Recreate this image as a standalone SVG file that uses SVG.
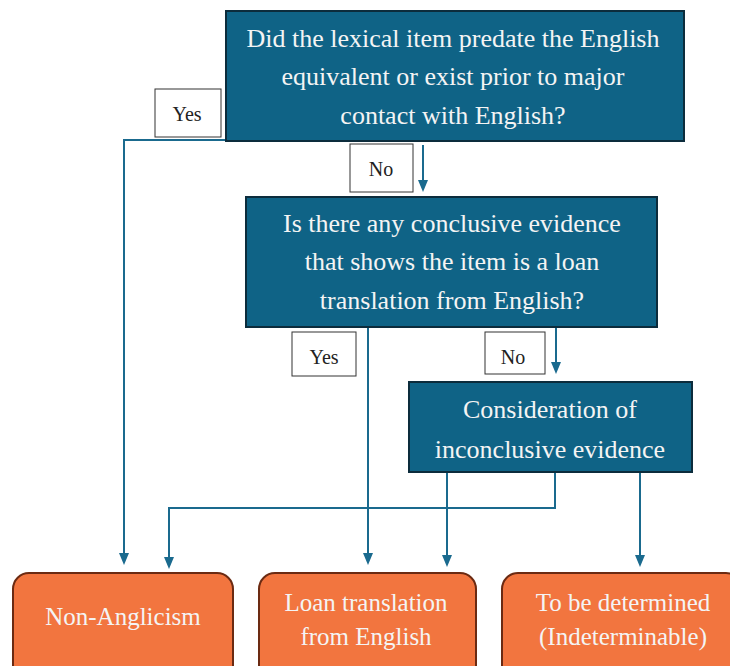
<svg xmlns="http://www.w3.org/2000/svg" width="730" height="666" viewBox="0 0 730 666">
<defs>
<style>
.q{fill:#0f6386;stroke:#0c2c3c;stroke-width:2}
.t{fill:#f4f4f4;font-family:"Liberation Serif",serif;font-size:26px;text-anchor:middle}
.b{font-size:25px}
.lb{fill:#ffffff;stroke:#333333;stroke-width:1}
.lt{fill:#222222;font-family:"Liberation Serif",serif;font-size:20px;text-anchor:middle}
.o{fill:#f2753f;stroke:#6b2a12;stroke-width:2}
.c{fill:none;stroke:#1a6a8e;stroke-width:2}
.h{fill:#1a6a8e}
</style>
</defs>
<rect width="730" height="666" fill="#ffffff"/>
<g id="connectors">
<path class="c" d="M226,140 H124 V553"/>
<path class="h" d="M119,553 L129,553 L124,565 Z"/>
<path class="c" d="M423,145 V180"/>
<path class="h" d="M418,180 L428,180 L423,192 Z"/>
<path class="c" d="M368,327 V553"/>
<path class="h" d="M363,553 L373,553 L368,565 Z"/>
<path class="c" d="M556,327 V362"/>
<path class="h" d="M551,362 L561,362 L556,374 Z"/>
<path class="c" d="M447,472 V555"/>
<path class="h" d="M442,555 L452,555 L447,567 Z"/>
<path class="c" d="M555,472 V508 H169 V557"/>
<path class="h" d="M164,557 L174,557 L169,569 Z"/>
<path class="c" d="M640,472 V555"/>
<path class="h" d="M635,555 L645,555 L640,567 Z"/>
</g>
<g id="q1">
<rect class="q" x="226" y="11" width="458" height="130"/>
<text class="t" x="453" y="47">Did the lexical item predate the English</text>
<text class="t" x="453" y="85">equivalent or exist prior to major</text>
<text class="t" x="453" y="124">contact with English?</text>
</g>
<g id="yes1">
<rect class="lb" x="155" y="89" width="66" height="48"/>
<text class="lt" x="187" y="121">Yes</text>
</g>
<g id="no1">
<rect class="lb" x="350" y="144" width="63" height="48"/>
<text class="lt" x="381" y="176">No</text>
</g>
<g id="q2">
<rect class="q" x="246" y="197" width="411" height="130"/>
<text class="t" x="452" y="232">Is there any conclusive evidence</text>
<text class="t" x="452" y="270">that shows the item is a loan</text>
<text class="t" x="452" y="309">translation from English?</text>
</g>
<g id="yes2">
<rect class="lb" x="292" y="332" width="64" height="44"/>
<text class="lt" x="324" y="364">Yes</text>
</g>
<g id="no2">
<rect class="lb" x="485" y="332" width="60" height="42"/>
<text class="lt" x="513" y="364">No</text>
</g>
<g id="q3">
<rect class="q" x="409" y="382" width="283" height="90"/>
<text class="t" x="550" y="418">Consideration of</text>
<text class="t" x="550" y="458">inconclusive evidence</text>
</g>
<g id="r1">
<rect class="o" x="13" y="573" width="220" height="110" rx="16"/>
<text class="t b" x="123" y="625">Non-Anglicism</text>
</g>
<g id="r2">
<rect class="o" x="259" y="573" width="217" height="110" rx="16"/>
<text class="t b" x="366" y="611">Loan translation</text>
<text class="t b" x="366" y="645">from English</text>
</g>
<g id="r3">
<rect class="o" x="502" y="573" width="240" height="110" rx="16"/>
<text class="t b" x="623" y="611">To be determined</text>
<text class="t b" x="623" y="645">(Indeterminable)</text>
</g>
</svg>
